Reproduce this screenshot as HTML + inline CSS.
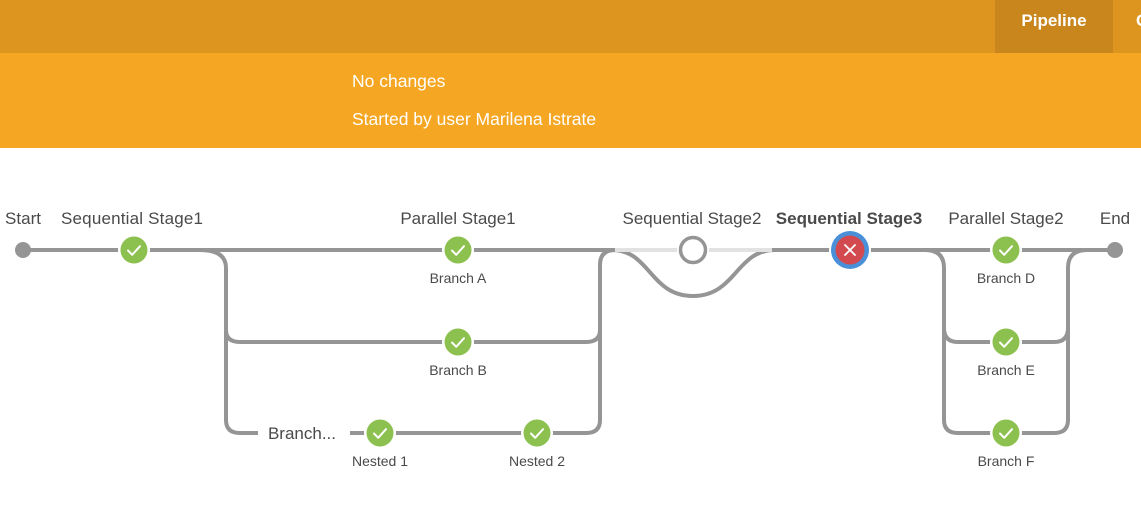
<!DOCTYPE html>
<html><head><meta charset="utf-8"><style>
html,body{margin:0;padding:0;width:1141px;height:505px;overflow:hidden;background:#fff;font-family:"Liberation Sans",sans-serif}
.top{position:absolute;left:0;top:0;width:1141px;height:53px;background:#DE951F}
.tab{position:absolute;left:995px;top:0;width:118px;height:53px;background:#C8861C;color:#fff;font-weight:bold;font-size:17px;line-height:42px;text-align:center}
.band{position:absolute;left:0;top:53px;width:1141px;height:95px;background:#F5A623;color:#fff;font-size:17.5px}
.band div{position:absolute;left:352px}
svg{position:absolute;left:0;top:0}
</style></head><body>
<div class="top"><div class="tab">Pipeline</div><div style="position:absolute;left:1136px;top:11px;color:#fff;font-weight:bold;font-size:17px">C</div></div>
<div class="band"><div style="top:18px">No changes</div><div style="top:56px">Started by user Marilena Istrate</div></div>
<svg width="1141" height="505" viewBox="0 0 1141 505">
<defs>
<g id="ok"><circle r="16" fill="#fff"/><circle r="13.5" fill="#8CC04F"/><path d="M-6 0.5 L-1.8 4.8 L6 -3.8" stroke="#fff" stroke-width="2" fill="none" stroke-linecap="round" stroke-linejoin="round"/></g>
</defs>
<g fill="none" stroke="#959595" stroke-width="4">
<line x1="23" y1="250" x2="615" y2="250"/>
<path d="M200 250 Q226 250 226 268 V420 Q226 433 240 433 H258"/>
<path d="M226 320 V330 Q226 342 240 342 H586 Q600 342 600 330"/>
<path d="M350 433 H586 Q600 433 600 420 V265 Q600 250 615 250"/>
<path d="M612 250 C650 250 650 296 693 296 C736 296 736 250 775 250"/>
<line x1="770" y1="250" x2="1115" y2="250"/>
<path d="M925 250 Q944 250 944 268 V420 Q944 433 958 433 H1054 Q1068 433 1068 420 V268 Q1068 250 1087 250"/>
<path d="M944 328 Q944 342 958 342 H1054 Q1068 342 1068 328"/>
</g>
<line x1="615" y1="250" x2="772" y2="250" stroke="#e2e2e2" stroke-width="4"/>
<circle cx="23" cy="250" r="8" fill="#959595"/>
<circle cx="1115" cy="250" r="8" fill="#959595"/>
<circle cx="693" cy="250" r="16" fill="#fff"/>
<circle cx="693" cy="250" r="12.5" fill="#fff" stroke="#959595" stroke-width="3.5"/>
<use href="#ok" x="134" y="250"/>
<use href="#ok" x="458" y="250"/>
<use href="#ok" x="458" y="342"/>
<use href="#ok" x="380" y="433"/>
<use href="#ok" x="537" y="433"/>
<use href="#ok" x="1006" y="250"/>
<use href="#ok" x="1006" y="342"/>
<use href="#ok" x="1006" y="433"/>
<circle cx="850" cy="250" r="21" fill="#fff"/>
<circle cx="850" cy="250" r="19" fill="#4A90D9"/>
<circle cx="850" cy="250" r="14.5" fill="#D24A4F"/>
<path d="M845 245 L855 255 M855 245 L845 255" stroke="#fff" stroke-width="1.8" stroke-linecap="round"/>
<g font-family="Liberation Sans, sans-serif" fill="#4a4a4a" font-size="17" text-anchor="middle">
<text x="23" y="224">Start</text>
<text x="132" y="224" textLength="142">Sequential Stage1</text>
<text x="458" y="224">Parallel Stage1</text>
<text x="692" y="224">Sequential Stage2</text>
<text x="849" y="224" font-weight="bold">Sequential Stage3</text>
<text x="1006" y="224">Parallel Stage2</text>
<text x="1115" y="224">End</text>
<text x="302" y="439">Branch...</text>
</g>
<g font-family="Liberation Sans, sans-serif" fill="#4a4a4a" font-size="14" text-anchor="middle">
<text x="458" y="283">Branch A</text>
<text x="458" y="375">Branch B</text>
<text x="380" y="466">Nested 1</text>
<text x="537" y="466">Nested 2</text>
<text x="1006" y="283">Branch D</text>
<text x="1006" y="375">Branch E</text>
<text x="1006" y="466">Branch F</text>
</g>
</svg>
</body></html>
